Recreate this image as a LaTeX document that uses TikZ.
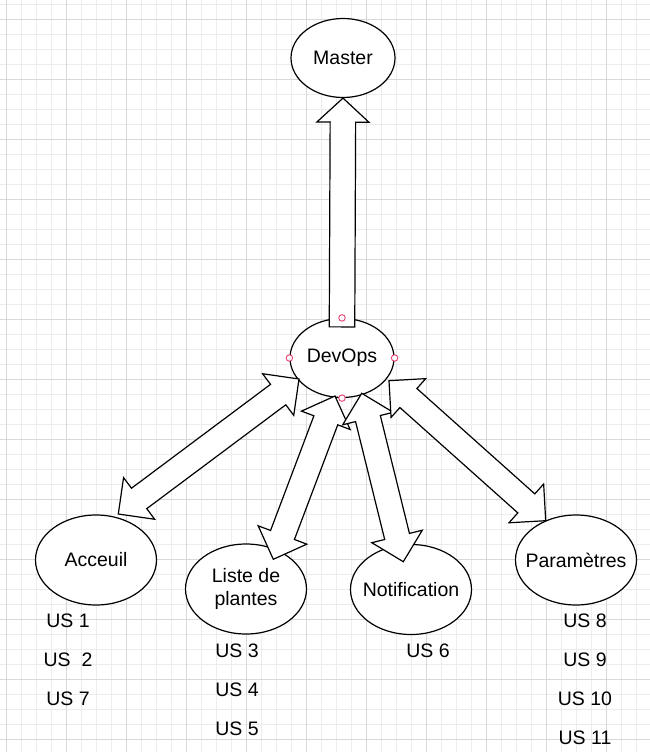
\documentclass[tikz,border=0pt]{standalone}
\usepackage{fontspec}
\setmainfont{Liberation Sans}
\usetikzlibrary{calc,shapes.geometric}
\definecolor{gridminor}{RGB}{236,236,236}
\definecolor{gridmajor}{RGB}{216,216,216}
\definecolor{ptred}{RGB}{236,64,110}
% double-headed block arrow between two named points
\newcommand{\dblblock}[2]{%
  \coordinate (ta) at ($(#1)!26pt!(#2)$);
  \coordinate (tb) at ($(#2)!26pt!(#1)$);
  \draw[blockarrow] (#1)
    -- ($(ta)!26pt!90:(#2)$) -- ($(ta)!12.75pt!90:(#2)$)
    -- ($(tb)!12.75pt!-90:(#1)$) -- ($(tb)!26pt!-90:(#1)$)
    -- (#2)
    -- ($(tb)!26pt!90:(#1)$) -- ($(tb)!12.75pt!90:(#1)$)
    -- ($(ta)!12.75pt!-90:(#2)$) -- ($(ta)!26pt!-90:(#2)$)
    -- cycle;}
% single-headed block arrow: flat end #1, tip #2
\newcommand{\sglblock}[2]{%
  \coordinate (tb) at ($(#2)!24pt!(#1)$);
  \draw[blockarrow] ($(#1)!12.75pt!90:(#2)$)
    -- ($(tb)!12.75pt!-90:(#1)$) -- ($(tb)!26pt!-90:(#1)$)
    -- (#2)
    -- ($(tb)!26pt!90:(#1)$) -- ($(tb)!12.75pt!90:(#1)$)
    -- ($(#1)!12.75pt!-90:(#2)$)
    -- cycle;}
\begin{document}
\begin{tikzpicture}[x=1pt,y=-1pt,
  every node/.style={font=\fontsize{19.5}{22.5}\selectfont},
  ell/.style={draw=black, line width=1.2pt, fill=white, ellipse, inner sep=0pt},
  bigell/.style={ell, minimum width=121pt, minimum height=90pt},
  smallell/.style={ell, minimum width=104pt, minimum height=79pt},
  blockarrow/.style={draw=black, fill=white, line width=1.2pt, line join=miter},
  cpoint/.style={circle, draw=ptred, fill=white, line width=0.9pt, minimum size=6.5pt, inner sep=0pt},
  lbl/.style={inner sep=0pt}]
\useasboundingbox (0,0) rectangle (650,752);
\fill[white] (0,0) rectangle (650,752);
% grid
\foreach \x in {6.5,21.5,...,650} \draw[gridminor, line width=1pt] (\x,0) -- (\x,752);
\foreach \y in {4.3,19.3,...,752} \draw[gridminor, line width=1pt] (0,\y) -- (650,\y);
\foreach \x in {6.5,66.5,...,650} \draw[gridmajor, line width=1pt] (\x,0) -- (\x,752);
\foreach \y in {19.3,79.3,...,752} \draw[gridmajor, line width=1pt] (0,\y) -- (650,\y);

% ellipses
\node[smallell] (master) at (343,58) {Master};
\node[smallell] (devops) at (342,358) {DevOps};
\node[bigell, label={[lbl]center:Acceuil}] (acc) at (96,560) {};
\node[bigell, label={[lbl, align=center]center:{Liste de\\plantes}}] (liste) at (246,589) {};
\node[bigell, label={[lbl]center:Notification}] (notif) at (411,589.5) {};
\node[bigell, label={[lbl]center:Paramètres}] (param) at (576,560) {};

% arrow end points
\coordinate (dM) at ($(devops.north)+(0,9)$);
\coordinate (dA) at (299,379);
\coordinate (aA) at (118.3,514);
\coordinate (dL) at (335,396);
\coordinate (lL) at (273.3,559.3);
\coordinate (dN) at (361.7,393.3);
\coordinate (nN) at (403.3,561.7);
\coordinate (dP) at (389,380.7);
\coordinate (pP) at (545.7,520.7);

% block arrows
\sglblock{dM}{master.south}
\dblblock{dA}{aA}
\dblblock{dL}{lL}
\dblblock{dN}{nN}
\dblblock{dP}{pP}

% connection points
\node[cpoint] (cpn) at (devops.north) {};
\node[cpoint] (cpw) at (devops.west) {};
\node[cpoint] (cpe) at (devops.east) {};
\node[cpoint] (cps) at (devops.south) {};

% labels
\node[lbl] (us1) at (68,621) {US 1};
\node[lbl] (us2) at (68,660) {US\ \ 2};
\node[lbl] (us7) at (68,699) {US 7};
\node[lbl] (us3) at (237,651) {US 3};
\node[lbl] (us4) at (237,690) {US 4};
\node[lbl] (us5) at (237,729) {US 5};
\node[lbl] (us6) at (428,651) {US 6};
\node[lbl] (us8) at (585,621) {US 8};
\node[lbl] (us9) at (585,660) {US 9};
\node[lbl] (us10) at (585,699) {US 10};
\node[lbl] (us11) at (585,738) {US 11};
\end{tikzpicture}
\end{document}
